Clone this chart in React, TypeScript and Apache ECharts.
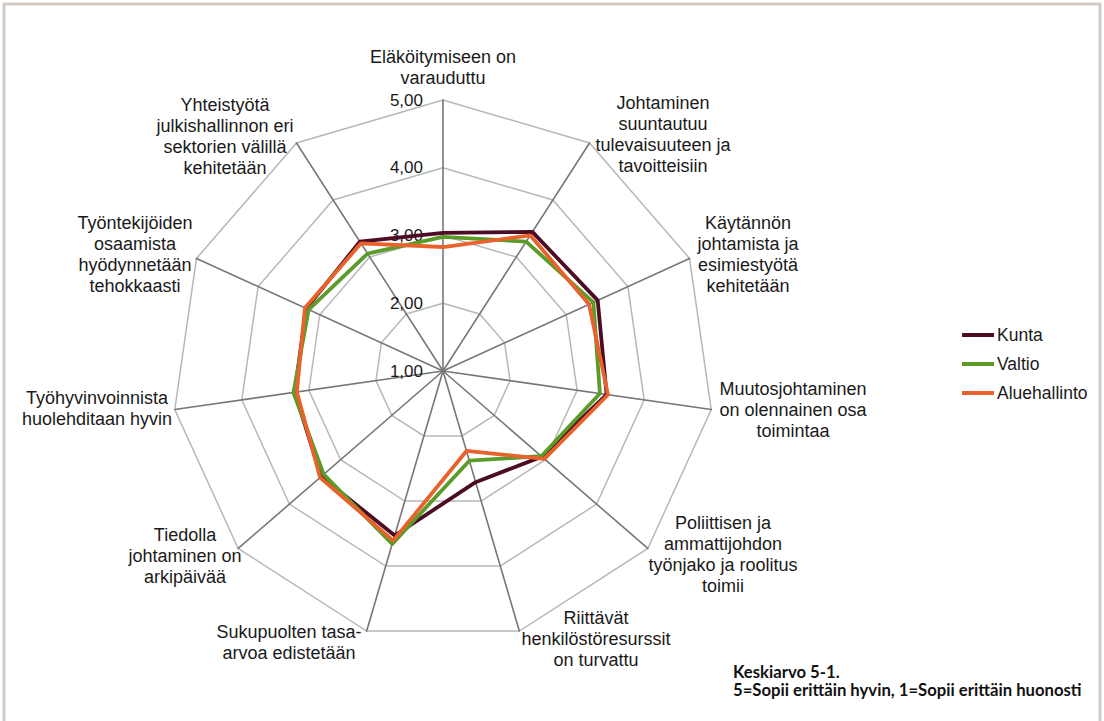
import React, { useEffect, useRef } from 'react';
import * as echarts from 'echarts';

// Indicators in clockwise order, starting from the top
const categories = [
  'Eläköitymiseen on\nvarauduttu',
  'Johtaminen\nsuuntautuu\ntulevaisuuteen ja\ntavoitteisiin',
  'Käytännön\njohtamista ja\nesimiestyötä\nkehitetään',
  'Muutosjohtaminen\non olennainen osa\ntoimintaa',
  'Poliittisen ja\nammattijohdon\ntyönjako ja roolitus\ntoimii',
  'Riittävät\nhenkilöstöresurssit\non turvattu',
  'Sukupuolten tasa-\narvoa edistetään',
  'Tiedolla\njohtaminen on\narkipäivää',
  'Työhyvinvoinnista\nhuolehditaan hyvin',
  'Työntekijöiden\nosaamista\nhyödynnetään\ntehokkaasti',
  'Yhteistyötä\njulkishallinnon eri\nsektorien välillä\nkehitetään',
];

const kunta = [3.04, 3.44, 3.51, 3.44, 2.93, 2.71, 3.53, 3.38, 3.21, 3.22, 3.27];
const valtio = [2.98, 3.27, 3.44, 3.34, 2.92, 2.38, 3.66, 3.33, 3.23, 3.18, 3.06];
const aluehallinto = [2.83, 3.38, 3.37, 3.46, 2.98, 2.23, 3.61, 3.40, 3.18, 3.24, 3.24];

const seriesNames = ['Kunta', 'Valtio', 'Aluehallinto'];
const seriesColors = ['#4b0c24', '#5b9b2a', '#e8622c'];

const tickLabels = ['1,00', '2,00', '3,00', '4,00', '5,00'];
const axisMin = 1;
const axisMax = 5;

const footnote = ['Keskiarvo 5-1.', '5=Sopii erittäin hyvin, 1=Sopii erittäin huonosti'];

// layout
const CX = 443;
const CY = 371;
const R = 271;
const labelLayout = [
  [443, 46],
  [663, 92],
  [748, 212],
  [793, 378],
  [723, 512],
  [596, 607],
  [289, 621],
  [185, 524],
  [97, 387],
  [135, 212],
  [225, 94],
];

const FONT = 'Liberation Sans';

export default function App() {
  const ref = useRef<HTMLDivElement>(null);
  useEffect(() => {
    const chart = echarts.init(ref.current!, null, { renderer: 'svg' });
    const n = categories.length;
    // ECharts places radar indicators counter-clockwise; reorder to read clockwise
    const order = categories.map((_, i) => (i === 0 ? 0 : n - i));
    const reorder = (arr: number[]) => order.map((i) => arr[i]);
    const allData = [kunta, valtio, aluehallinto];

    const graphics: any[] = [
      {
        type: 'rect',
        z: 0,
        shape: { x: 4, y: 4, width: 1096, height: 740 },
        style: { fill: 'none', stroke: '#d4ccc4', lineWidth: 3 },
      },
    ];
    tickLabels.forEach((t, i) => {
      graphics.push({
        type: 'text',
        z: 1,
        x: CX - 20,
        y: CY - (R * i) / (tickLabels.length - 1),
        style: {
          text: t,
          textAlign: 'right',
          textVerticalAlign: 'middle',
          fontFamily: FONT,
          fontSize: 17,
          fill: '#1a1a1a',
        },
      });
    });
    categories.forEach((c, i) => {
      graphics.push({
        type: 'text',
        z: 1,
        x: labelLayout[i][0],
        y: labelLayout[i][1],
        style: {
          text: c,
          textAlign: 'center',
          textVerticalAlign: 'top',
          fontFamily: FONT,
          fontSize: 18,
          lineHeight: 21,
          fill: '#1a1a1a',
        },
      });
    });
    footnote.forEach((t, i) => {
      graphics.push({
        type: 'text',
        z: 1,
        x: 733,
        y: 663 + i * 18,
        style: {
          text: t,
          textAlign: 'left',
          textVerticalAlign: 'top',
          fontFamily: 'Lato',
          fontWeight: 'bold',
          fontSize: 16.7,
          fill: '#111',
        },
      });
    });

    chart.setOption({
      animation: false,
      backgroundColor: '#ffffff',
      legend: {
        orient: 'vertical',
        left: 957,
        top: 321,
        icon: 'rect',
        itemWidth: 32,
        itemHeight: 4,
        itemGap: 11,
        data: seriesNames,
        textStyle: { fontFamily: FONT, fontSize: 17.5, color: '#1a1a1a', lineHeight: 17, padding: [0, 0, 0, -2] },
      },
      radar: {
        center: [CX, CY],
        radius: R,
        startAngle: 90,
        splitNumber: tickLabels.length - 1,
        shape: 'polygon',
        indicator: order.map((i) => ({ name: categories[i], min: axisMin, max: axisMax })),
        axisName: { show: false },
        splitLine: { lineStyle: { color: '#b8b8b8', width: 1.5 } },
        splitArea: { show: false },
        axisLine: { lineStyle: { color: '#777777', width: 1.6 } },
        axisTick: { show: false },
        axisLabel: { show: false },
      },
      graphic: graphics,
      series: seriesNames.map((name, si) => ({
        type: 'radar',
        name,
        z: 2 + si,
        symbol: 'none',
        color: seriesColors[si],
        lineStyle: { color: seriesColors[si], width: 3.8 },
        data: [{ name, value: reorder(allData[si]) }],
      })),
    });
    return () => chart.dispose();
  }, []);
  return (
    <div
      ref={ref}
      style={{ position: 'fixed', left: 0, top: 0, width: 1104, height: 721, background: '#fff' }}
    />
  );
}
